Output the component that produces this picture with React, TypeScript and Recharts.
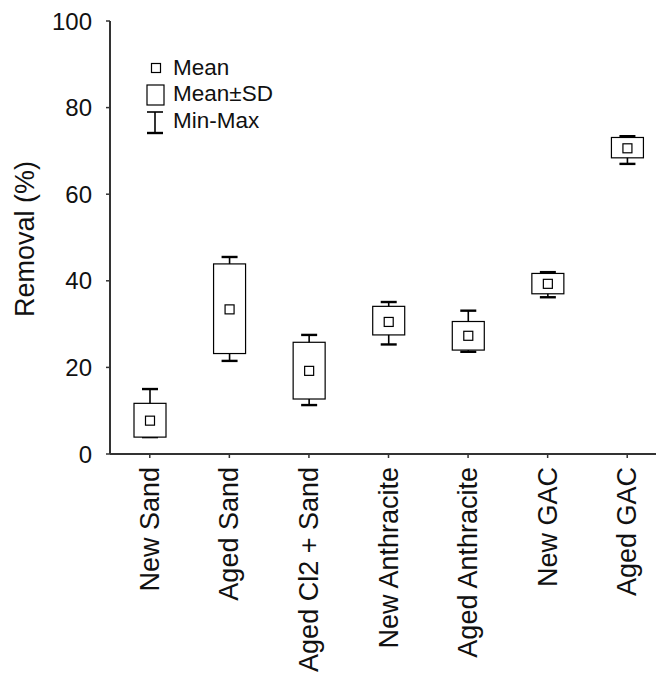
import React from "react"
import { ComposedChart, Bar, XAxis, YAxis } from "recharts"

const categories = [
  "New Sand",
  "Aged Sand",
  "Aged Cl2 + Sand",
  "New Anthracite",
  "Aged Anthracite",
  "New GAC",
  "Aged GAC",
]
const means = [7.7, 33.4, 19.2, 30.5, 27.3, 39.3, 70.6]
const sdLows = [3.9, 23.2, 12.7, 27.5, 24.0, 37.0, 68.4]
const sdHighs = [11.7, 43.9, 25.8, 34.1, 30.6, 41.7, 73.1]
const mins = [3.9, 21.5, 11.3, 25.3, 23.6, 36.2, 67.0]
const maxs = [15.0, 45.5, 27.5, 35.1, 33.1, 42.0, 73.4]
const yTicks = [0, 20, 40, 60, 80, 100]

const FONT = "Arial, 'Liberation Sans', sans-serif"
const INK = "#111"
const AXIS = "#333"

const data = categories.map((name, i) => ({
  name,
  mean: means[i],
  sdLow: sdLows[i],
  sdHigh: sdHighs[i],
  min: mins[i],
  max: maxs[i],
}))

function BoxShape(props: any) {
  const { x, y, width, height, payload } = props
  const top = Math.min(y, y + height)
  const h = Math.abs(height)
  const { min, max, sdLow, sdHigh, mean } = payload
  const k = h / (max - min || 1)
  const py = (v: number) => top + (max - v) * k
  const cx = x + width / 2
  const cap = 8
  const m = 4.5
  return (
    <g>
      <line x1={cx} x2={cx} y1={py(max)} y2={py(min)} stroke="#000" strokeWidth={1.6} />
      <line x1={cx - cap} x2={cx + cap} y1={py(max)} y2={py(max)} stroke="#000" strokeWidth={2.4} />
      <line x1={cx - cap} x2={cx + cap} y1={py(min)} y2={py(min)} stroke="#000" strokeWidth={2.4} />
      <rect
        x={x}
        y={py(sdHigh)}
        width={width}
        height={py(sdLow) - py(sdHigh)}
        fill="#fff"
        stroke="#000"
        strokeWidth={1.2}
      />
      <rect x={cx - m} y={py(mean) - m} width={m * 2} height={m * 2} fill="#fff" stroke="#000" strokeWidth={1.2} />
    </g>
  )
}

function XTick(props: any) {
  const { x, y, payload } = props
  const ty = y + 7
  return (
    <text
      x={x}
      y={ty}
      transform={`rotate(-90, ${x}, ${ty})`}
      textAnchor="end"
      dominantBaseline="central"
      fontSize={27}
      fontFamily={FONT}
      fill={INK}
    >
      {payload.value}
    </text>
  )
}

function YLabel(props: any) {
  const { viewBox } = props
  const cx = viewBox.x + 17
  const cy = 231
  return (
    <text
      x={cx}
      y={cy}
      transform={`rotate(-90, ${cx}, ${cy})`}
      textAnchor="middle"
      dominantBaseline="central"
      fontSize={27}
      fontFamily={FONT}
      fill={INK}
    >
      Removal (%)
    </text>
  )
}

function LegendBox() {
  return (
    <svg width={170} height={90} style={{ position: "absolute", left: 132, top: 47 }}>
      <rect x={11.5} y={8.5} width={9} height={9} fill="#fff" stroke="#000" strokeWidth={1.2} />
      <text x={33} y={20} fontSize={22.5} fontFamily={FONT} fill={INK}>Mean</text>
      <rect x={7} y={30} width={17} height={20} fill="#fff" stroke="#000" strokeWidth={1.2} />
      <text x={33} y={45.7} fontSize={22.5} fontFamily={FONT} fill={INK}>Mean±SD</text>
      <line x1={15} x2={15} y1={57} y2={78} stroke="#000" strokeWidth={1.6} />
      <line x1={7} x2={23} y1={57} y2={57} stroke="#000" strokeWidth={1.6} />
      <line x1={7} x2={23} y1={78} y2={78} stroke="#000" strokeWidth={2.4} />
      <text x={33} y={73.3} fontSize={22.5} fontFamily={FONT} fill={INK}>Min-Max</text>
    </svg>
  )
}

export default function App() {
  return (
    <div style={{ width: 656, height: 672, overflow: "hidden", position: "relative", background: "#fff" }}>
      <ComposedChart width={662} height={672} data={data} margin={{ top: 13, right: 3, bottom: 0, left: 0 }}>
        <XAxis
          dataKey="name"
          type="category"
          height={226}
          interval={0}
          tick={<XTick />}
          tickSize={4}
          axisLine={{ stroke: AXIS, strokeWidth: 2 }}
          tickLine={{ stroke: AXIS, strokeWidth: 1.5 }}
        />
        <YAxis
          type="number"
          domain={[0, 100]}
          ticks={yTicks}
          width={102}
          tickSize={4}
          tickMargin={14}
          tick={{ fontSize: 24, fontFamily: FONT, fill: INK }}
          axisLine={{ stroke: AXIS, strokeWidth: 2 }}
          tickLine={{ stroke: AXIS, strokeWidth: 1.5 }}
          label={<YLabel />}
        />
        <Bar
          dataKey={(d: any) => [d.min, d.max]}
          barSize={32}
          shape={<BoxShape />}
          isAnimationActive={false}
        />
      </ComposedChart>
      <LegendBox />
    </div>
  )
}
